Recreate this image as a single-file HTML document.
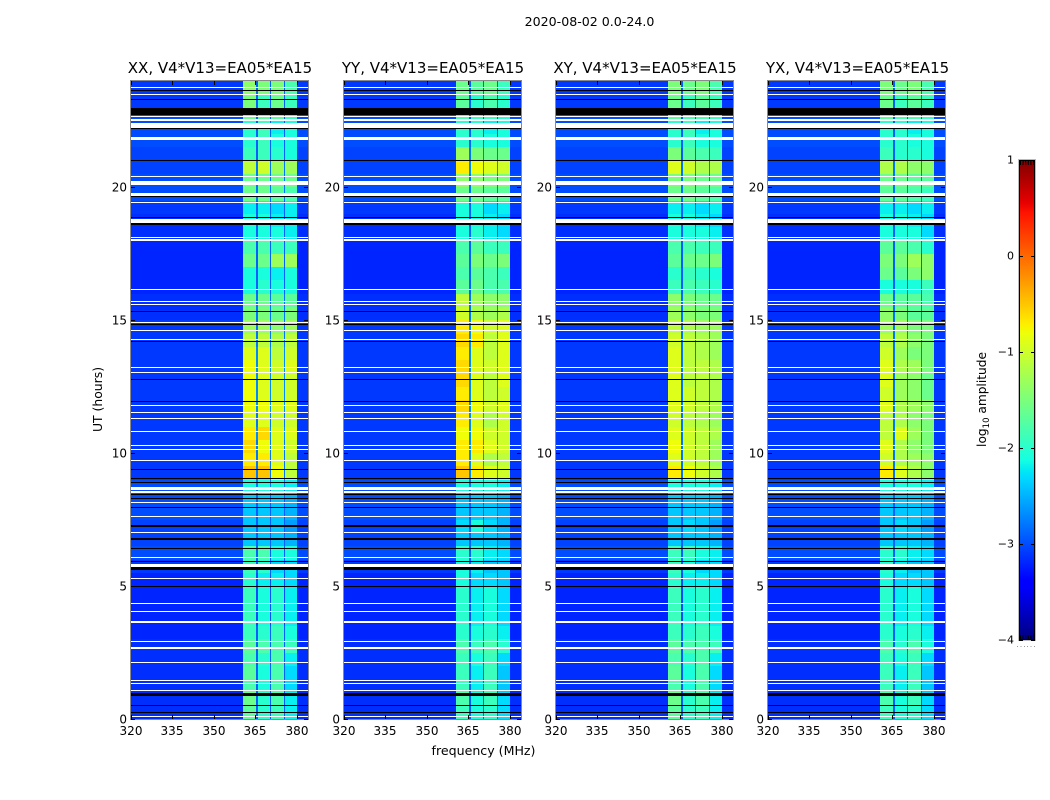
<!DOCTYPE html>
<html lang="en">
<head>
<meta charset="utf-8">
<title>2020-08-02 0.0-24.0</title>
<style>
html,body{margin:0;padding:0;background:#fff;width:1050px;height:800px;overflow:hidden}
svg{display:block}
text{font-family:"DejaVu Sans","Liberation Sans",sans-serif;fill:#000}
rect{shape-rendering:crispEdges}
</style>
</head>
<body>
<svg id="chart" width="1050" height="800" viewBox="0 0 1050 800" xmlns="http://www.w3.org/2000/svg">
  <rect x="0" y="0" width="1050" height="800" fill="#fff"/>
  <text x="589.5" y="26" font-size="12.6" text-anchor="middle">2020-08-02 0.0-24.0</text>
  <text x="0" y="0" font-size="12.4" text-anchor="middle" transform="translate(102 399.5) rotate(-90)">UT (hours)</text>
  <text x="483.5" y="755" font-size="12.6" text-anchor="middle">frequency (MHz)</text>
  <text x="0" y="0" font-size="12.2" text-anchor="middle" transform="translate(986 399.5) rotate(-90)">log<tspan font-size="8.5" dy="3">10</tspan><tspan dy="-3"> amplitude</tspan></text>
  <g id="panels"></g>
  <g id="colorbar"></g>
</svg>
<script>
// Axis tick labels
const xTicks = [320, 335, 350, 365, 380];
const yTicks = [0, 5, 10, 15, 20];
const colorbarTicks = [1, 0, -1, -2, -3, -4];

// Frequency channel edges (MHz) and which value of a row each channel shows
const freqEdges = [320, 360.6, 365.1, 365.8, 370.1, 370.7, 375.2, 375.8, 380, 384];
const channelValue = [0, 1, 5, 2, 5, 3, 5, 4, 0];

// Flagged time ranges, hours [start, end]
const whiteFlags = [[0.06,0.1],[1.04,1.08],[1.3,1.34],[1.42,1.46],[2.09,2.13],[2.65,2.69],[2.91,2.95],[3.63,3.67],[4.01,4.05],[4.31,4.35],[5.28,5.32],[5.72,5.83],[6.07,6.11],[7,7.04],[7.58,7.62],[8.11,8.15],[8.52,8.56],[8.62,8.72],[9.71,9.75],[10.13,10.17],[10.28,10.32],[10.79,10.83],[11.29,11.33],[11.52,11.56],[11.78,11.82],[13,13.04],[13.21,13.25],[14.26,14.3],[14.61,14.65],[14.88,14.92],[15.58,15.62],[15.69,15.73],[16.12,16.16],[18,18.04],[18.08,18.12],[18.65,18.82],[19.41,19.45],[19.68,19.78],[20.09,20.25],[20.39,20.43],[21.78,21.88],[22.22,22.43],[22.5,22.58],[22.63,22.68],[23.48,23.52],[23.74,23.78]];
const blackFlags = [[0.21,0.25],[0.48,0.52],[0.85,0.89],[0.92,0.96],[4.95,4.99],[5.61,5.72],[5.89,5.93],[6.41,6.45],[6.75,6.79],[7.24,7.28],[7.92,7.96],[8.28,8.32],[8.44,8.48],[8.86,8.9],[9.01,9.05],[9.37,9.41],[11.93,11.97],[12.76,12.8],[14.19,14.23],[14.83,14.87],[15.3,15.34],[18.6,18.64],[18.84,18.88],[19.62,19.66],[20.98,21.02],[22.18,22.22],[22.72,22.98],[23.29,23.33],[23.62,23.66]];

// log10 amplitude per half-hour row: [background, band1, band2, band3, band4, band gap]
const xxRows = [
[-3.15,-1.7,-2.0,-1.9,-2.2,-2.9],[-3.15,-1.6,-2.0,-1.8,-2.2,-2.9],[-3.15,-1.8,-2.1,-1.8,-2.3,-2.9],[-3.15,-1.7,-2.1,-1.8,-2.3,-2.9],
[-3.15,-1.8,-2.0,-1.8,-2.2,-2.9],[-3.15,-1.7,-1.8,-1.8,-1.9,-2.9],[-3.2,-1.9,-2.0,-1.9,-2.1,-2.9],[-3.2,-1.9,-2.1,-2.0,-2.2,-3.0],
[-3.2,-1.9,-2.1,-2.0,-2.2,-3.0],[-3.2,-1.9,-2.1,-2.0,-2.2,-3.0],[-3.2,-2.0,-2.2,-2.2,-2.3,-3.0],[-3.1,-1.9,-2.0,-2.3,-2.3,-2.9],
[-3.0,-1.8,-1.8,-2.1,-2.1,-2.9],[-3.05,-2.4,-2.4,-2.4,-2.5,-2.9],[-3.05,-2.4,-2.4,-2.4,-2.6,-2.9],[-3.0,-2.4,-2.4,-2.4,-2.5,-2.9],
[-3.0,-2.4,-2.4,-2.4,-2.5,-2.9],[-3.0,-2.1,-2.1,-2.1,-2.2,-2.8],[-3.1,-0.5,-0.5,-0.8,-1.1,-2.8],[-3.1,-0.7,-0.7,-0.9,-1.1,-2.8],
[-3.1,-0.6,-0.8,-0.9,-1.0,-2.8],[-3.1,-0.7,-0.6,-0.9,-0.9,-2.7],[-3.1,-0.9,-0.9,-1.0,-1.0,-2.8],[-3.1,-0.8,-0.8,-0.9,-0.9,-2.7],
[-3.1,-0.8,-0.9,-1.0,-1.0,-2.7],[-3.1,-0.8,-0.9,-1.0,-1.0,-2.7],[-3.1,-0.8,-0.9,-1.0,-0.9,-2.7],[-3.1,-0.9,-0.9,-1.1,-1.0,-2.7],
[-3.1,-1.1,-1.1,-1.2,-1.1,-2.8],[-3.1,-1.3,-1.3,-1.4,-1.3,-2.8],[-3.15,-1.5,-1.5,-1.6,-1.5,-2.8],[-3.15,-1.6,-1.6,-1.7,-1.7,-2.8],
[-3.2,-2.1,-2.0,-2.1,-2.1,-2.9],[-3.2,-2.1,-2.1,-2.2,-2.1,-2.9],[-3.2,-1.6,-1.6,-1.3,-1.3,-2.9],[-3.2,-1.8,-1.8,-1.9,-1.9,-2.9],
[-3.15,-2.1,-2.1,-2.1,-2.2,-2.9],[-3.15,-2.1,-2.1,-2.2,-2.2,-2.9],[-3.1,-2.2,-2.2,-2.3,-2.2,-2.9],[-3.0,-1.6,-1.6,-1.7,-1.8,-2.8],
[-3.0,-1.6,-1.6,-1.6,-1.6,-2.8],[-3.05,-1.1,-1.0,-1.3,-1.3,-2.8],[-3.05,-1.9,-1.9,-2.0,-2.1,-2.9],[-3.0,-2.0,-1.9,-2.1,-2.1,-2.9],
[-3.0,-2.0,-1.9,-2.2,-2.1,-2.9],[-3.0,-1.6,-1.7,-1.7,-1.9,-2.9],[-3.1,-1.5,-1.9,-1.6,-1.9,-2.9],[-3.1,-1.4,-1.5,-1.5,-1.8,-2.9]];
const yyRows = [
[-3.15,-1.9,-2.1,-2.0,-2.3,-2.9],[-3.15,-1.8,-2.1,-1.9,-2.3,-2.9],[-3.15,-1.9,-2.2,-1.9,-2.4,-2.9],[-3.15,-1.9,-2.2,-1.9,-2.4,-2.9],
[-3.15,-1.9,-2.1,-1.9,-2.3,-2.9],[-3.15,-1.8,-1.9,-1.8,-2.0,-2.9],[-3.2,-2.0,-2.1,-2.0,-2.2,-2.9],[-3.2,-2.0,-2.2,-2.1,-2.3,-3.0],
[-3.2,-2.0,-2.2,-2.1,-2.3,-3.0],[-3.2,-2.0,-2.2,-2.1,-2.3,-3.0],[-3.2,-2.1,-2.3,-2.3,-2.4,-3.0],[-3.1,-2.1,-2.2,-2.4,-2.4,-2.9],
[-3.0,-2.0,-2.0,-2.2,-2.3,-2.9],[-3.05,-2.4,-2.4,-2.4,-2.5,-2.9],[-3.05,-2.3,-2.1,-2.3,-2.5,-2.9],[-3.0,-2.4,-2.4,-2.4,-2.5,-2.9],
[-3.0,-2.4,-2.4,-2.4,-2.5,-2.9],[-3.0,-2.1,-2.1,-2.1,-2.2,-2.8],[-3.1,-0.5,-0.7,-0.9,-1.0,-2.7],[-3.1,-0.7,-0.9,-1.2,-1.1,-2.7],
[-3.1,-0.7,-0.7,-0.9,-1.0,-2.7],[-3.1,-0.8,-0.8,-1.0,-1.0,-2.7],[-3.1,-0.7,-0.9,-1.2,-1.0,-2.7],[-3.1,-0.6,-0.8,-1.0,-0.9,-2.7],
[-3.1,-0.7,-0.9,-1.1,-1.0,-2.7],[-3.1,-0.6,-0.9,-1.1,-0.9,-2.7],[-3.1,-0.6,-0.9,-1.0,-0.9,-2.7],[-3.1,-0.7,-0.9,-1.1,-0.9,-2.7],
[-3.1,-0.6,-0.7,-1.1,-0.9,-2.7],[-3.1,-0.7,-0.8,-1.0,-0.9,-2.7],[-3.15,-1.0,-1.2,-1.3,-1.2,-2.8],[-3.15,-1.1,-1.3,-1.4,-1.4,-2.8],
[-3.2,-1.7,-1.6,-1.8,-1.8,-2.9],[-3.2,-1.8,-1.7,-1.8,-1.9,-2.9],[-3.2,-1.7,-1.5,-1.6,-1.5,-2.9],[-3.2,-1.8,-1.7,-1.9,-1.9,-2.9],
[-3.15,-2.1,-2.0,-2.2,-2.3,-2.9],[-3.15,-2.1,-2.1,-2.2,-2.3,-2.9],[-3.1,-2.1,-2.1,-2.3,-2.2,-2.9],[-3.0,-1.6,-1.6,-1.7,-1.7,-2.8],
[-3.0,-1.4,-1.4,-1.5,-1.5,-2.8],[-3.05,-0.7,-0.8,-0.9,-1.0,-2.7],[-3.05,-1.3,-1.5,-1.6,-1.6,-2.8],[-3.0,-2.0,-2.0,-2.1,-2.1,-2.9],
[-3.0,-2.0,-2.0,-2.2,-2.1,-2.9],[-3.0,-1.8,-1.9,-1.9,-2.0,-2.9],[-3.1,-1.7,-2.0,-1.8,-2.0,-2.9],[-3.1,-1.6,-1.7,-1.6,-1.9,-2.9]];
const xyRows = [
[-3.15,-1.7,-2.0,-1.9,-2.2,-2.9],[-3.15,-1.6,-2.0,-1.8,-2.2,-2.9],[-3.15,-1.8,-2.1,-1.8,-2.3,-2.9],[-3.15,-1.7,-2.1,-1.8,-2.3,-2.9],
[-3.15,-1.8,-2.0,-1.8,-2.2,-2.9],[-3.15,-1.7,-1.8,-1.8,-1.9,-2.9],[-3.2,-1.9,-2.0,-1.9,-2.1,-2.9],[-3.2,-1.9,-2.1,-2.0,-2.2,-3.0],
[-3.2,-1.9,-2.1,-2.0,-2.2,-3.0],[-3.2,-1.9,-2.1,-2.0,-2.2,-3.0],[-3.2,-2.0,-2.2,-2.2,-2.3,-3.0],[-3.1,-1.9,-2.1,-2.3,-2.3,-2.9],
[-3.0,-1.9,-1.9,-2.1,-2.2,-2.9],[-3.05,-2.4,-2.4,-2.4,-2.5,-2.9],[-3.05,-2.4,-2.3,-2.4,-2.6,-2.9],[-3.0,-2.4,-2.4,-2.4,-2.5,-2.9],
[-3.0,-2.4,-2.4,-2.4,-2.5,-2.9],[-3.0,-2.1,-2.1,-2.1,-2.2,-2.8],[-3.1,-0.7,-0.8,-1.0,-1.2,-2.8],[-3.1,-0.9,-1.0,-1.1,-1.3,-2.8],
[-3.1,-0.8,-1.0,-1.1,-1.3,-2.8],[-3.1,-0.9,-1.0,-1.1,-1.2,-2.8],[-3.1,-1.0,-1.1,-1.2,-1.3,-2.8],[-3.1,-0.9,-1.0,-1.1,-1.2,-2.8],
[-3.1,-0.9,-1.0,-1.1,-1.2,-2.8],[-3.1,-0.9,-1.1,-1.1,-1.2,-2.8],[-3.1,-0.9,-1.1,-1.1,-1.2,-2.8],[-3.1,-0.9,-1.1,-1.2,-1.3,-2.8],
[-3.1,-1.0,-1.1,-1.2,-1.3,-2.8],[-3.1,-1.1,-1.2,-1.3,-1.3,-2.8],[-3.15,-1.3,-1.4,-1.5,-1.5,-2.8],[-3.15,-1.4,-1.5,-1.6,-1.6,-2.8],
[-3.2,-1.9,-1.8,-1.9,-2.0,-2.9],[-3.2,-2.0,-1.9,-2.0,-2.1,-2.9],[-3.2,-1.7,-1.6,-1.6,-1.5,-2.9],[-3.2,-1.8,-1.8,-1.9,-1.9,-2.9],
[-3.15,-2.1,-2.1,-2.1,-2.2,-2.9],[-3.15,-2.1,-2.1,-2.2,-2.3,-2.9],[-3.1,-2.2,-2.2,-2.3,-2.2,-2.9],[-3.0,-1.6,-1.6,-1.7,-1.8,-2.8],
[-3.0,-1.5,-1.5,-1.6,-1.6,-2.8],[-3.05,-0.9,-1.0,-1.2,-1.2,-2.8],[-3.05,-1.5,-1.7,-1.8,-1.9,-2.9],[-3.0,-2.0,-1.9,-2.1,-2.1,-2.9],
[-3.0,-2.0,-1.9,-2.2,-2.1,-2.9],[-3.0,-1.7,-1.8,-1.8,-1.9,-2.9],[-3.1,-1.6,-1.9,-1.7,-1.9,-2.9],[-3.1,-1.5,-1.6,-1.5,-1.8,-2.9]];
const yxRows = [
[-3.15,-1.9,-2.1,-2.0,-2.3,-2.9],[-3.15,-1.8,-2.1,-1.9,-2.3,-2.9],[-3.15,-1.9,-2.2,-1.9,-2.4,-2.9],[-3.15,-1.9,-2.2,-1.9,-2.4,-2.9],
[-3.15,-1.9,-2.1,-1.9,-2.3,-2.9],[-3.15,-1.8,-2.0,-1.8,-2.1,-2.9],[-3.2,-2.0,-2.1,-2.0,-2.2,-2.9],[-3.2,-2.0,-2.2,-2.1,-2.3,-3.0],
[-3.2,-2.0,-2.2,-2.1,-2.3,-3.0],[-3.2,-2.0,-2.2,-2.1,-2.3,-3.0],[-3.2,-2.1,-2.3,-2.3,-2.4,-3.0],[-3.1,-2.0,-2.2,-2.4,-2.4,-2.9],
[-3.0,-2.0,-2.0,-2.2,-2.3,-2.9],[-3.05,-2.4,-2.4,-2.4,-2.5,-2.9],[-3.05,-2.4,-2.3,-2.4,-2.6,-2.9],[-3.0,-2.4,-2.4,-2.4,-2.5,-2.9],
[-3.0,-2.4,-2.4,-2.4,-2.5,-2.9],[-3.0,-2.1,-2.1,-2.1,-2.2,-2.8],[-3.1,-0.7,-0.9,-1.2,-1.4,-2.8],[-3.1,-1.0,-1.2,-1.3,-1.4,-2.8],
[-3.1,-0.9,-1.2,-1.4,-1.5,-2.8],[-3.1,-1.1,-0.9,-1.3,-1.5,-2.8],[-3.1,-1.1,-1.2,-1.4,-1.5,-2.8],[-3.1,-0.9,-1.2,-1.3,-1.4,-2.8],
[-3.1,-1.0,-1.3,-1.4,-1.6,-2.8],[-3.1,-0.9,-1.3,-1.4,-1.6,-2.8],[-3.1,-0.9,-1.2,-1.3,-1.5,-2.8],[-3.1,-1.0,-1.3,-1.5,-1.5,-2.8],
[-3.1,-1.1,-1.2,-1.4,-1.5,-2.8],[-3.1,-1.3,-1.3,-1.5,-1.5,-2.8],[-3.15,-1.4,-1.5,-1.7,-1.7,-2.8],[-3.15,-1.6,-1.7,-1.7,-1.8,-2.8],
[-3.2,-2.1,-2.1,-2.1,-1.9,-2.9],[-3.2,-1.6,-1.7,-1.5,-1.4,-2.9],[-3.2,-1.5,-1.5,-1.3,-1.4,-2.9],[-3.2,-1.7,-1.7,-1.8,-2.0,-2.9],
[-3.15,-2.1,-2.1,-2.1,-2.3,-2.9],[-3.15,-2.1,-2.1,-2.2,-2.3,-2.9],[-3.1,-2.2,-2.2,-2.3,-2.2,-2.9],[-3.0,-1.7,-1.7,-1.8,-1.9,-2.8],
[-3.0,-1.6,-1.6,-1.7,-1.7,-2.8],[-3.05,-1.2,-1.2,-1.4,-1.4,-2.8],[-3.05,-1.9,-2.0,-2.0,-2.1,-2.9],[-3.0,-2.0,-2.0,-2.1,-2.1,-2.9],
[-3.0,-2.0,-2.0,-2.2,-2.1,-2.9],[-3.0,-1.7,-1.8,-1.8,-1.9,-2.9],[-3.1,-1.6,-1.9,-1.7,-1.9,-2.9],[-3.1,-1.5,-1.6,-1.5,-1.8,-2.9]];

const panelTitles = ["XX, V4*V13=EA05*EA15", "YY, V4*V13=EA05*EA15", "XY, V4*V13=EA05*EA15", "YX, V4*V13=EA05*EA15"];
const panelKeys = ["xx", "yy", "xy", "yx"];
const panelRows = [xxRows, yyRows, xyRows, yxRows];
const panelLeft = [131, 344, 556, 768];
const panelCenter = [220, 433, 645, 857.5];

const NS = "http://www.w3.org/2000/svg";
const axW = 177, axTop = 81, axBottom = 719;
const hoursPerRow = 0.5;

function xScale(left, f) { return left + (f - 320) / 64 * axW; }
function yScale(h) { return axBottom - h / 24 * (axBottom - axTop); }
function cbarY(v) { return 160 + (1 - v) / 5 * 480; }

function interp(t, pts) {
  for (let i = 1; i < pts.length; i++) {
    if (t <= pts[i][0]) {
      const a = pts[i - 1], b = pts[i];
      return a[1] + (t - a[0]) / (b[0] - a[0]) * (b[1] - a[1]);
    }
  }
  return pts[pts.length - 1][1];
}
function jet(v) {
  const t = Math.max(0, Math.min(1, (v + 4) / 5));
  const r = interp(t, [[0,0],[0.35,0],[0.66,1],[0.89,1],[1,0.5]]);
  const g = interp(t, [[0,0],[0.125,0],[0.375,1],[0.64,1],[0.91,0],[1,0]]);
  const b = interp(t, [[0,0.5],[0.11,1],[0.34,1],[0.65,0],[1,0]]);
  return "rgb(" + Math.round(r * 255) + "," + Math.round(g * 255) + "," + Math.round(b * 255) + ")";
}
function make(parent, tag, attrs, txt) {
  const el = document.createElementNS(NS, tag);
  for (const k in attrs) el.setAttribute(k, attrs[k]);
  if (txt !== undefined) el.textContent = txt;
  parent.appendChild(el);
  return el;
}
function minusText(v) { return v < 0 ? "\u2212" + Math.abs(v) : String(v); }

const panelsRoot = document.getElementById("panels");
panelRows.forEach(function (rows, p) {
  const left = panelLeft[p];
  const key = panelKeys[p];
  const g = make(panelsRoot, "g", {});
  
  

  const title = make(g, "text", { x: panelCenter[p], y: 73, "font-size": 15, "text-anchor": "middle" }, panelTitles[p]);
  
  

  rows.forEach(function (row, r) {
    const yTop = Math.round(yScale((r + 1) * hoursPerRow));
    const yBot = Math.round(yScale(r * hoursPerRow));
    channelValue.forEach(function (vi, c) {
      const x0 = Math.round(xScale(left, freqEdges[c]));
      const x1 = Math.round(xScale(left, freqEdges[c + 1]));
      const cell = make(g, "rect", { x: x0, y: yTop, width: x1 - x0, height: yBot - yTop, fill: jet(row[vi]) });
      
      
    });
  });

  whiteFlags.forEach(function (f) {
    const y0 = Math.round(yScale(f[1]));
    const y1 = Math.round(yScale(f[0]));
    const flag = make(g, "rect", { x: left, y: y0, width: axW, height: Math.max(1, y1 - y0), fill: "#fff" });
    
    
  });
  blackFlags.forEach(function (f) {
    const y0 = Math.round(yScale(f[1]));
    const y1 = Math.round(yScale(f[0]));
    const flag = make(g, "rect", { x: left, y: y0, width: axW, height: Math.max(1, y1 - y0), fill: "#000" });
    
    
  });

  const frame = make(g, "rect", { x: left - 0.5, y: axTop - 0.5, width: axW + 1, height: axBottom - axTop + 1, fill: "none", stroke: "#8a8a8a", "stroke-width": 1 });
  
  

  xTicks.forEach(function (t) {
    const x = Math.round(xScale(left, t)) + 0.5;
    const tb = make(g, "line", { x1: x, x2: x, y1: axBottom, y2: axBottom - 4, stroke: "#000", "stroke-width": 1 });
    
    
    const tt = make(g, "line", { x1: x, x2: x, y1: axTop, y2: axTop + 4, stroke: "#000", "stroke-width": 1 });
    
    
    const lab = make(g, "text", { x: x - 0.5, y: 735, "font-size": 12, "text-anchor": "middle" }, String(t));
    
    
  });
  yTicks.forEach(function (t) {
    const y = Math.round(yScale(t)) + 0.5;
    const tl = make(g, "line", { x1: left, x2: left + 4, y1: y, y2: y, stroke: "#000", "stroke-width": 1 });
    
    
    const tr = make(g, "line", { x1: left + axW, x2: left + axW - 4, y1: y, y2: y, stroke: "#000", "stroke-width": 1 });
    
    
    const lab = make(g, "text", { x: left - 4, y: y + 4, "font-size": 12, "text-anchor": "end" }, String(t));
    
    
  });
});

const cbarRoot = document.getElementById("colorbar");
const cbarX = 1019, cbarW = 16;
for (let py = 160; py < 640; py++) {
  const v = 1 - (py + 0.5 - 160) / 480 * 5;
  const s = make(cbarRoot, "rect", { x: cbarX, y: py, width: cbarW, height: 1, fill: jet(v) });
  
  
}
const cbFrame = make(cbarRoot, "rect", { x: cbarX + 0.5, y: 160.5, width: cbarW - 1, height: 479, fill: "none", stroke: "#000", "stroke-width": 1 });


const cbHalo = make(cbarRoot, "rect", { x: cbarX - 0.5, y: 159.5, width: cbarW + 1, height: 481, fill: "none", stroke: "#bbb", "stroke-width": 1 });


colorbarTicks.forEach(function (t) {
  const y = Math.round(cbarY(t)) + 0.5;
  const a = make(cbarRoot, "line", { x1: cbarX, x2: cbarX + 4, y1: y, y2: y, stroke: "#000", "stroke-width": 1 });
  
  
  const b = make(cbarRoot, "line", { x1: cbarX + cbarW, x2: cbarX + cbarW - 4, y1: y, y2: y, stroke: "#000", "stroke-width": 1 });
  
  
  const lab = make(cbarRoot, "text", { x: 1014, y: y + 3, "font-size": 11, "text-anchor": "end" }, minusText(t));
  
  
});
for (let i = 0; i < 6; i++) {
  const x = cbarX + 1.5 + i * 2.6;
  const tt = make(cbarRoot, "line", { x1: x, x2: x, y1: 160, y2: 165, stroke: "#000", "stroke-width": 1 });
  
  
  const tb = make(cbarRoot, "line", { x1: x, x2: x, y1: 640, y2: 635, stroke: "#000", "stroke-width": 1 });
  
  
  const dot = make(cbarRoot, "rect", { x: cbarX - 2 + i * 3.4, y: 646, width: 1, height: 1, fill: "#999" });
  
  
}
</script>
</body>
</html>
